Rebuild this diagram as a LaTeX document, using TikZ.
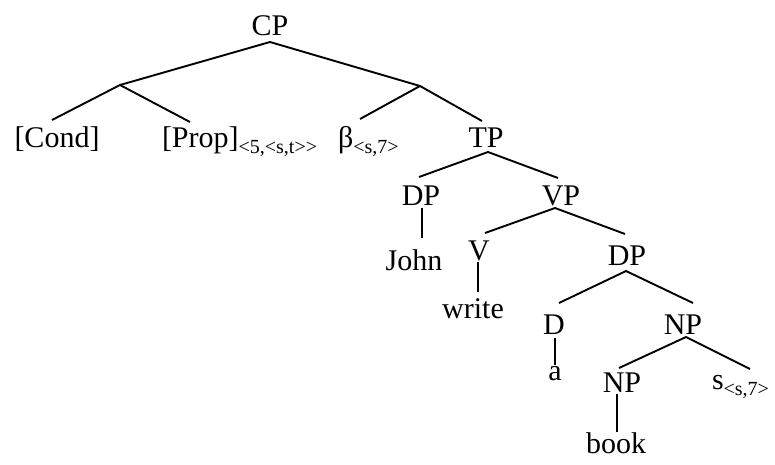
\documentclass[tikz,border=0pt]{standalone}
\usepackage{fontspec}
\setmainfont{Liberation Serif}
\usetikzlibrary{calc}
\newcommand{\subtxt}[1]{\raisebox{-6pt}{\fontsize{20}{22}\selectfont #1}}
\tikzset{
  lab/.style={inner sep=0pt, outer sep=0pt, anchor=base, font=\fontsize{30}{34}\selectfont},
  labw/.style={lab, anchor=base west},
  br/.style={line width=1.9pt}
}
\begin{document}
\begin{tikzpicture}[x=1pt,y=-1pt]
\useasboundingbox (0,0) rectangle (775,464);
% nodes
\node[lab] (CP) at (270,35) {CP};
\coordinate (b1) at (120,85);
\coordinate (b2) at (420,86);
\node[lab] (Cond) at (57,147) {[Cond]};
\node[labw] (Prop) at (162,147) {[Prop]\subtxt{<5,<s,t>{}>}};
\node[labw] (beta) at (338,147) {β\subtxt{<s,7>}};
\node[lab] (TP) at (486,147) {TP};
\node[lab] (DPa) at (421,205) {DP};
\node[lab] (John) at (414,270) {John};
\node[lab] (VP) at (561,205) {VP};
\node[lab] (V) at (479,260) {V};
\node[lab] (write) at (473,318) {write};
\node[lab] (DPb) at (627,265) {DP};
\node[lab] (D) at (554,334) {D};
\node[lab] (a) at (555,380) {a};
\node[lab] (NPa) at (683,334) {NP};
\node[lab] (NPb) at (622,392) {NP};
\node[lab] (book) at (616,453) {book};
\node[labw] (s) at (712,389) {s\subtxt{<s,7>}};
% branches
\draw[br] (b1) -- ($(CP.base)+(0,7)$) -- (b2);
\draw[br] ($(Cond.base)+(-5,-27)$) -- (b1) -- ($(Prop.base west)+(28,-25)$);
\draw[br] ($(beta.base west)+(22,-28)$) -- (b2) -- ($(TP.base)+(-4,-26)$);
\draw[br] ($(DPa.base)+(-2,-28)$) -- ($(TP.base)+(2,5)$) -- ($(VP.base)+(-3,-27)$);
\draw[br] ($(DPa.base)+(1,3)$) -- ($(John.base)+(8,-32)$);
\draw[br] ($(V.base)+(6,-27)$) -- ($(VP.base)+(-6,3)$) -- ($(DPb.base)+(-2,-31)$);
\draw[br] ($(V.base)+(-1,2)$) -- ($(write.base)+(5,-26)$);
\draw[br] ($(D.base)+(5,-31)$) -- ($(DPb.base)+(-1,6)$) -- ($(NPa.base)+(10,-31)$);
\draw[br] ($(D.base)+(1,4)$) -- ($(a.base)+(0,-15)$);
\draw[br] ($(NPb.base)+(-3,-24)$) -- ($(NPa.base)+(3,3)$) -- ($(s.base west)+(38,-20)$);
\draw[br] ($(NPb.base)+(-5,2)$) -- ($(book.base)+(1,-21)$);
\end{tikzpicture}
\end{document}
